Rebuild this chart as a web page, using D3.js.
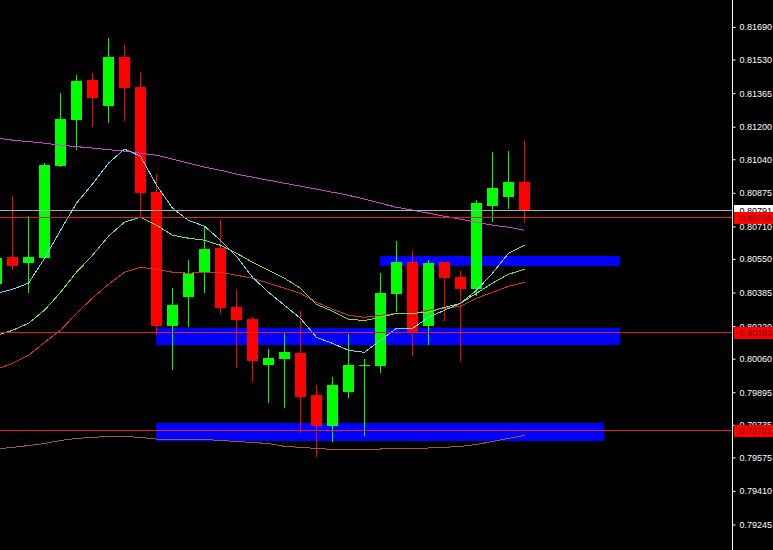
<!DOCTYPE html>
<html>
<head>
<meta charset="utf-8">
<script src="https://cdn.jsdelivr.net/npm/d3@7/dist/d3.min.js"></script>
<style>
  html, body { margin: 0; padding: 0; background: #000; }
  svg { display: block; }
</style>
</head>
<body>
<div id="chart"></div>
<script>
// ---- Data (prices) ----
const opens  = [0.80426,0.80558,0.80529,0.80553,0.81006,0.81232,0.81429,0.81301,0.81542,0.81395,0.80878,0.80219,0.80362,0.80485,0.80603,0.80312,0.80253,0.80027,0.80057,0.80086,0.79879,0.79727,0.79894,0.80022,0.80022,0.80376,0.80534,0.80219,0.80534,0.80460,0.80401,0.80809,0.80854,0.80927];
const highs  = [0.80593,0.80859,0.80760,0.81021,0.81365,0.81454,0.81464,0.81636,0.81601,0.81469,0.80967,0.80406,0.80544,0.80711,0.80740,0.80396,0.80263,0.80106,0.80189,0.80293,0.79929,0.79968,0.80180,0.80057,0.80480,0.80637,0.80588,0.80544,0.80536,0.80490,0.80839,0.81075,0.81080,0.81129];
const lows   = [0.80396,0.80494,0.80381,0.80549,0.81001,0.81085,0.81198,0.81218,0.81228,0.80750,0.80175,0.80002,0.80214,0.80381,0.80278,0.80012,0.79943,0.79840,0.79820,0.79697,0.79579,0.79648,0.79865,0.79678,0.79988,0.80288,0.80071,0.80125,0.80244,0.80042,0.80367,0.80731,0.80795,0.80726];
const closes = [0.80553,0.80514,0.80558,0.81011,0.81237,0.81424,0.81341,0.81542,0.81390,0.80873,0.80219,0.80322,0.80480,0.80598,0.80308,0.80248,0.80047,0.80062,0.80091,0.79870,0.79727,0.79929,0.80027,0.80027,0.80381,0.80534,0.80189,0.80529,0.80455,0.80401,0.80824,0.80898,0.80927,0.80790];

const maFast = [0.80381,0.80401,0.80431,0.80553,0.80691,0.80824,0.80918,0.81021,0.81090,0.81055,0.80913,0.80800,0.80740,0.80711,0.80642,0.80563,0.80460,0.80386,0.80322,0.80258,0.80165,0.80135,0.80101,0.80091,0.80150,0.80209,0.80209,0.80263,0.80298,0.80332,0.80396,0.80480,0.80578,0.80617];
const maMid  = [0.80175,0.80199,0.80234,0.80298,0.80386,0.80485,0.80568,0.80662,0.80731,0.80755,0.80716,0.80667,0.80652,0.80642,0.80617,0.80578,0.80534,0.80494,0.80455,0.80406,0.80327,0.80293,0.80253,0.80248,0.80263,0.80283,0.80283,0.80288,0.80312,0.80332,0.80381,0.80431,0.80475,0.80499];
const maSlow = [0.80007,0.80037,0.80076,0.80140,0.80199,0.80283,0.80357,0.80426,0.80485,0.80509,0.80499,0.80485,0.80480,0.80485,0.80485,0.80470,0.80455,0.80431,0.80406,0.80381,0.80337,0.80303,0.80273,0.80263,0.80273,0.80283,0.80278,0.80298,0.80308,0.80317,0.80357,0.80386,0.80416,0.80435];
const maLong = [0.81144,0.81134,0.81127,0.81119,0.81109,0.81102,0.81095,0.81087,0.81080,0.81070,0.81060,0.81041,0.81021,0.81001,0.80986,0.80967,0.80952,0.80937,0.80922,0.80908,0.80893,0.80878,0.80863,0.80844,0.80824,0.80804,0.80790,0.80775,0.80760,0.80745,0.80731,0.80716,0.80706,0.80691];
const maBase = [0.79616,0.79624,0.79633,0.79643,0.79658,0.79668,0.79673,0.79678,0.79678,0.79673,0.79665,0.79663,0.79663,0.79663,0.79658,0.79653,0.79648,0.79643,0.79629,0.79624,0.79619,0.79614,0.79614,0.79614,0.79616,0.79619,0.79619,0.79621,0.79624,0.79629,0.79638,0.79653,0.79668,0.79683];

// zones: top price, bottom price, first bar, last bar
const zoneTop    = [0.80563, 0.80209, 0.79742];
const zoneBottom = [0.80514, 0.80126, 0.79653];
const zoneStart  = [24, 10, 10];
const zoneEnd    = [39, 39, 38];

// horizontal price lines
const hLinePrices = [0.80791, 0.80755, 0.80193, 0.79711];
const hLineKinds  = ["bid", "level", "level", "level"];

const tickValues = [0.81690,0.81530,0.81365,0.81200,0.81040,0.80875,0.80710,0.80550,0.80385,0.80220,0.80060,0.79895,0.79735,0.79575,0.79410,0.79245];

// ---- Layout ----
const W = 773, H = 550;
const axisX = 732.5;

const svg = d3.select("#chart").append("svg").attr("width", W).attr("height", H);
svg.append("rect").attr("width", W).attr("height", H).attr("fill", "#000");

const x = d3.scaleLinear().domain([0, 33]).range([-3.5, 524.5]);
const y = d3.scaleLinear().domain([0.79245, 0.81690]).range([524.5, 27]);

const plot = svg.append("g");
plot.append("clipPath").attr("id", "clip").append("rect").attr("x", 0).attr("y", 0).attr("width", axisX).attr("height", H);
const pg = plot.append("g").attr("clip-path", "url(#clip)");

// zones
pg.selectAll("rect.zone").data(zoneTop.map((t, i) => i)).join("rect")
  .attr("class", "zone")
  .attr("x", i => x(zoneStart[i]) - 0.5)
  .attr("width", i => x(zoneEnd[i]) - x(zoneStart[i]))
  .attr("y", i => Math.round(y(zoneTop[i])))
  .attr("height", i => Math.round(y(zoneBottom[i])) - Math.round(y(zoneTop[i])))
  .attr("fill", "#0000ff")
  .attr("shape-rendering", "crispEdges");

// candles
const idx = d3.range(opens.length);
const colorOf = i => closes[i] >= opens[i] ? "#00ff00" : "#ff0000";
pg.selectAll("rect.wick").data(idx).join("rect")
  .attr("class", "wick")
  .attr("x", i => x(i) - 0.5)
  .attr("width", 1)
  .attr("y", i => Math.round(y(highs[i])))
  .attr("height", i => Math.max(1, Math.round(y(lows[i])) - Math.round(y(highs[i]))))
  .attr("fill", colorOf)
  .attr("shape-rendering", "crispEdges");
pg.selectAll("rect.body").data(idx).join("rect")
  .attr("class", "body")
  .attr("x", i => x(i) - 5.5)
  .attr("width", 11)
  .attr("y", i => Math.round(y(Math.max(opens[i], closes[i]))))
  .attr("height", i => Math.max(1, Math.round(y(Math.min(opens[i], closes[i]))) - Math.round(y(Math.max(opens[i], closes[i])))))
  .attr("fill", colorOf)
  .attr("shape-rendering", "crispEdges");

// moving averages
const maSeries = [
  { values: maBase, color: "#a05a38" },
  { values: maLong, color: "#d040d0" },
  { values: maSlow, color: "#d82a2a" },
  { values: maMid,  color: "#78e040" },
  { values: maFast, color: "#70dcea" }
];
const line = d3.line().x((d, i) => x(i)).y(d => y(d));
pg.selectAll("path.ma").data(maSeries).join("path")
  .attr("class", "ma")
  .attr("d", s => line(s.values))
  .attr("fill", "none")
  .attr("stroke", s => s.color)
  .attr("stroke-width", 1)
  .attr("shape-rendering", "crispEdges");

// horizontal lines
pg.selectAll("line.hl").data(hLinePrices.map((p, i) => i)).join("line")
  .attr("class", "hl")
  .attr("x1", 0).attr("x2", axisX)
  .attr("y1", i => Math.round(y(hLinePrices[i])) + 0.5)
  .attr("y2", i => Math.round(y(hLinePrices[i])) + 0.5)
  .attr("stroke", i => hLineKinds[i] === "bid" ? "#b0b0b0" : "#e02020")
  .attr("stroke-width", 1)
  .attr("shape-rendering", "crispEdges");

// right axis
svg.append("line")
  .attr("x1", axisX).attr("x2", axisX).attr("y1", 0).attr("y2", H)
  .attr("stroke", "#ffffff").attr("stroke-width", 1);

const axis = d3.axisRight(y).tickValues(tickValues).tickFormat(d3.format(".5f"))
  .tickSize(3).tickSizeOuter(0).tickPadding(4);
const ag = svg.append("g").attr("transform", `translate(${axisX},0)`).call(axis);
ag.select(".domain").remove();
ag.selectAll(".tick line").attr("stroke", "#ffffff");
ag.selectAll(".tick text")
  .attr("fill", "#ffffff")
  .style("font-family", "'Liberation Sans', Arial, sans-serif")
  .style("font-size", "9px");

// price labels on axis
const lbl = svg.append("g");
hLinePrices.forEach((p, i) => {
  const yy = Math.round(y(p));
  const bid = hLineKinds[i] === "bid";
  lbl.append("rect")
    .attr("x", 734).attr("width", W - 734)
    .attr("y", yy - 5).attr("height", 12)
    .attr("fill", bid ? "#ffffff" : "#ff0000")
    .attr("shape-rendering", "crispEdges");
  lbl.append("text")
    .attr("x", 739.5).attr("y", yy + 1)
    .attr("dy", "0.32em")
    .attr("fill", bid ? "#000000" : "#700000")
    .style("font-family", "'Liberation Sans', Arial, sans-serif")
    .style("font-size", "9px")
    .text(d3.format(".5f")(p));
});
</script>
</body>
</html>
